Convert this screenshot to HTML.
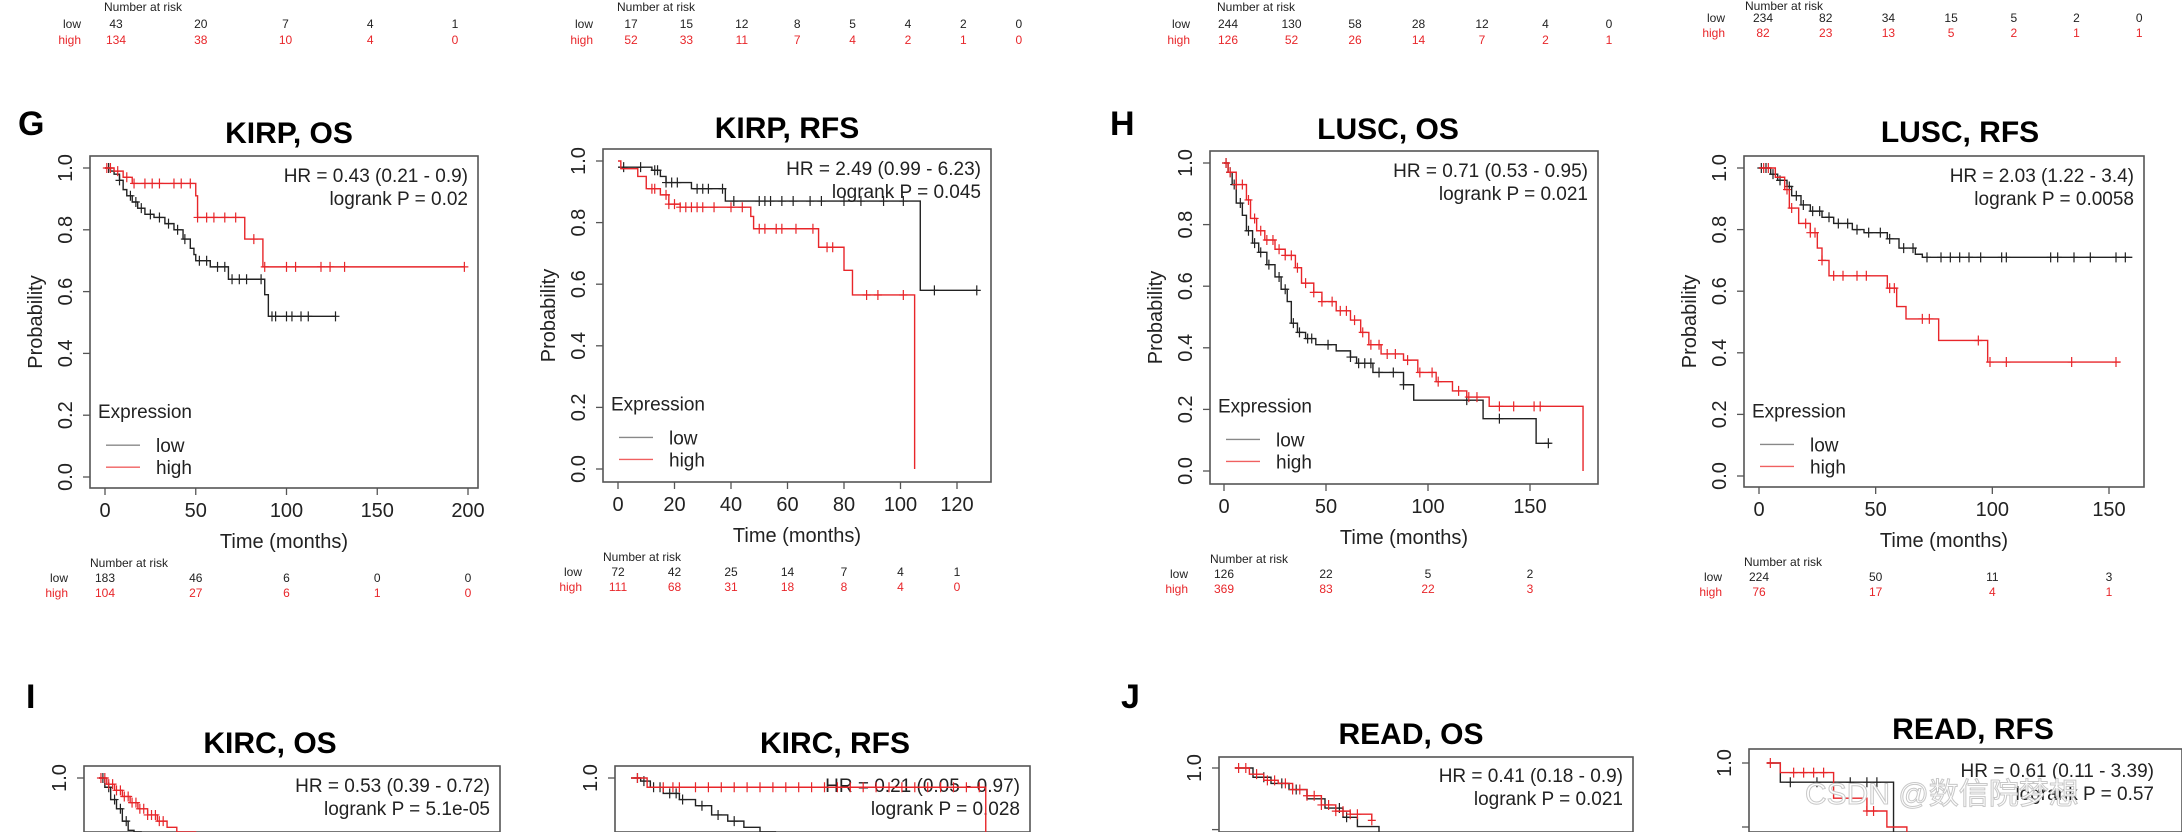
<!DOCTYPE html>
<html><head><meta charset="utf-8">
<style>
html,body{margin:0;padding:0;background:#fff;width:2182px;height:832px;overflow:hidden;}
svg{display:block;overflow:hidden;font-family:"Liberation Sans","Noto Sans CJK SC",sans-serif;}
</style></head>
<body>
<svg id="fig" width="2182" height="832" viewBox="0 0 2182 832" xmlns="http://www.w3.org/2000/svg">
<rect width="2182" height="832" fill="#fff"/>
<g font-size="12">
<text x="104" y="11" fill="#222">Number at risk</text>
<text x="81" y="28" text-anchor="end" fill="#222">low</text>
<text x="81" y="44" text-anchor="end" fill="#e8262a">high</text>
<text x="617" y="11" fill="#222">Number at risk</text>
<text x="593" y="28" text-anchor="end" fill="#222">low</text>
<text x="593" y="44" text-anchor="end" fill="#e8262a">high</text>
<text x="1217" y="11" fill="#222">Number at risk</text>
<text x="1190" y="28" text-anchor="end" fill="#222">low</text>
<text x="1190" y="44" text-anchor="end" fill="#e8262a">high</text>
<text x="1745" y="10" fill="#222">Number at risk</text>
<text x="1725" y="22" text-anchor="end" fill="#222">low</text>
<text x="1725" y="37" text-anchor="end" fill="#e8262a">high</text>
</g>
<g id="toprisk" font-size="12" text-anchor="middle"></g>
<text x="18" y="135" font-size="34" font-weight="bold">G</text>
<text x="1110" y="135" font-size="34" font-weight="bold">H</text>
<text x="26" y="708" font-size="34" font-weight="bold">I</text>
<text x="1121" y="708" font-size="34" font-weight="bold">J</text>
<g id="panels"></g>
<text x="1805" y="804" font-size="30" fill="#fff" stroke="#c8c8c8" stroke-width="1">CSDN @数信院梦想</text>
</svg>
<script>
const topRiskLow1=[43,20,7,4,1], topRiskHigh1=[134,38,10,4,0];
const topRiskLow2=[17,15,12,8,5,4,2,0], topRiskHigh2=[52,33,11,7,4,2,1,0];
const topRiskLow3=[244,130,58,28,12,4,0], topRiskHigh3=[126,52,26,14,7,2,1];
const topRiskLow4=[234,82,34,15,5,2,0], topRiskHigh4=[82,23,13,5,2,1,1];

const kirpOsLowT=[0,3,5,8,10,12,15,18,22,27,33,38,43,47,49,50,58,68,88,90,98,127];
const kirpOsLowS=[1,0.99,0.98,0.96,0.93,0.91,0.89,0.87,0.85,0.84,0.82,0.80,0.77,0.74,0.72,0.70,0.68,0.64,0.59,0.52,0.52,0.52];
const kirpOsHighT=[0,5,10,15,20,50,51,77,87,198];
const kirpOsHighS=[1,0.99,0.97,0.95,0.95,0.91,0.84,0.77,0.68,0.68];
const kirpOsLowC=[2,8,14,17,20,25,30,35,40,44,52,56,62,66,70,74,78,86,92,94,100,103,108,112,127];
const kirpOsHighC=[1,3,7,12,16,22,26,30,38,42,47,51,56,60,66,72,82,88,100,105,119,124,132,198];
const kirpOsRiskLow=[183,46,6,0,0], kirpOsRiskHigh=[104,27,6,1,0];
const kirpRfsLowT=[0,12,15,17,26,38,107,127];
const kirpRfsLowS=[0.98,0.97,0.95,0.93,0.91,0.87,0.58,0.58];
const kirpRfsHighT=[0,1,7,10,15,18,22,47,48,71,80,83,105];
const kirpRfsHighS=[1,0.975,0.95,0.91,0.89,0.86,0.85,0.82,0.78,0.72,0.645,0.565,0];
const kirpRfsLowC=[2,8,13,14,17,19,21,28,30,32,37,41,50,52,54,58,62,68,72,80,86,94,101,112,127];
const kirpRfsHighC=[12,13,17,18,20,22,24,26,28,30,34,40,44,50,52,56,58,63,69,74,76,88,92,101];
const kirpRfsRiskLow=[72,42,25,14,7,4,1], kirpRfsRiskHigh=[111,68,31,18,8,4,0];
const luscOsLowT=[0,2,4,6,9,11,14,17,21,25,28,31,33,36,40,45,55,62,65,73,88,93,127,153,160];
const luscOsLowS=[1,0.97,0.93,0.87,0.83,0.78,0.74,0.71,0.67,0.63,0.59,0.55,0.48,0.45,0.43,0.41,0.39,0.37,0.35,0.32,0.28,0.23,0.17,0.09,0.09];
const luscOsHighT=[0,2,6,11,13,16,20,25,30,35,38,44,48,55,62,67,71,77,88,95,104,112,119,130,176];
const luscOsHighS=[1,0.97,0.93,0.88,0.82,0.78,0.75,0.72,0.70,0.66,0.61,0.58,0.55,0.52,0.49,0.45,0.41,0.38,0.36,0.32,0.29,0.26,0.24,0.21,0];
const luscOsLowC=[1,3,5,8,12,15,18,22,27,30,34,37,41,43,51,62,66,69,72,76,83,88,119,135,159];
const luscOsHighC=[1,3,6,9,12,15,18,21,24,27,30,33,36,40,44,48,53,57,60,64,68,72,76,80,84,90,96,102,105,115,120,124,135,142,152,155];
const luscOsRiskLow=[126,22,5,2], luscOsRiskHigh=[369,83,22,3];
const luscRfsLowT=[0,5,8,12,14,18,22,27,32,40,45,55,60,67,70,160];
const luscRfsLowS=[1,0.98,0.96,0.94,0.91,0.88,0.86,0.84,0.82,0.80,0.79,0.77,0.74,0.72,0.71,0.71];
const luscRfsHighT=[0,7,11,13,17,22,25,27,30,55,59,63,77,98,155];
const luscRfsHighS=[1,0.97,0.93,0.87,0.82,0.79,0.74,0.70,0.65,0.61,0.55,0.51,0.44,0.37,0.37];
const luscRfsLowC=[1,3,6,9,13,16,19,23,26,30,34,38,42,47,52,56,62,66,72,78,82,86,90,95,104,106,125,128,135,142,153,157];
const luscRfsHighC=[2,4,12,14,20,22,24,27,32,36,42,46,56,58,70,73,94,99,106,134,153];
const luscRfsRiskLow=[224,50,11,3], luscRfsRiskHigh=[76,17,4,1];
const kircOsLowT=[0,3,6,9,12,15,18,22];
const kircOsLowS=[1,0.97,0.93,0.9,0.86,0.83,0.8,0.77];
const kircOsHighT=[0,4,8,12,16,20,25,30,35,40,45,50];
const kircOsHighS=[1,0.98,0.96,0.94,0.92,0.9,0.88,0.86,0.84,0.82,0.8,0.78];
const kircOsLowC=[2,5,8,11,14];
const kircOsHighC=[1,3,5,7,9,11,13,15,17,19,21,23,25,27,29,31,33,35,37,39,41,43];
const kircRfsLowT=[0,3,6,10,15,20,25,30,35,40,45];
const kircRfsLowS=[1,0.99,0.97,0.95,0.93,0.91,0.88,0.86,0.84,0.82,0.8];
const kircRfsHighT=[0,5,110];
const kircRfsHighS=[1,0.97,0];
const kircRfsLowC=[2,4,7,9,12,14,16,22,27,32,38,41,43];
const kircRfsHighC=[2,10,13,15,20,24,28,32,36,40,44,48,52,56,60,64,68,72,76,80,84,88,92,96,100,104,108];
const readOsLowT=[0,5,10,15,20,25,30,34,40];
const readOsLowS=[1,0.97,0.95,0.93,0.9,0.87,0.84,0.81,0.79];
const readOsHighT=[0,4,8,12,16,20,24,28,32,38];
const readOsHighS=[1,0.98,0.96,0.95,0.93,0.91,0.88,0.86,0.85,0.83];
const readOsLowC=[8,13,17,29,31];
const readOsHighC=[1,3,6,9,11,14,16,18,20,22,24,26,28,30,32,34,38];
const readRfsLowT=[0,4,35,38];
const readRfsLowS=[1,0.94,0.94,0.75];
const readRfsHighT=[0,4,20,30,36,42];
const readRfsHighS=[1,0.97,0.89,0.85,0.8,0.75];
const readRfsLowC=[7,15,25,30,33];
const readRfsHighC=[1,8,11,14,17,30,32];

const NS="http://www.w3.org/2000/svg";
function mk(tag,attrs,parent){const e=document.createElementNS(NS,tag);for(const k in attrs)e.setAttribute(k,attrs[k]);parent.appendChild(e);return e;}

(function(){
 const g=document.getElementById('toprisk');
 const rows=[
  [topRiskLow1,topRiskHigh1,116,84.75,28,44],
  [topRiskLow2,topRiskHigh2,631,55.4,28,44],
  [topRiskLow3,topRiskHigh3,1228,63.5,28,44],
  [topRiskLow4,topRiskHigh4,1763,62.7,22,37]];
 rows.forEach(r=>{
  r[0].forEach((v,i)=>{const t=mk('text',{x:r[2]+i*r[3],y:r[4],fill:'#222'},g);t.textContent=v;
   
   });
  r[1].forEach((v,i)=>{const t=mk('text',{x:r[2]+i*r[3],y:r[5],fill:'#e8262a'},g);t.textContent=v;
   
   });
 });
})();

const panels=[
 {name:'kirp-os',title:'KIRP, OS',tx:289,ty:143,box:[90,156,478,488],x0:105,xmax:200,xpx:468,y1:168,y0:477,xt:[0,50,100,150,200],
  hr:'HR = 0.43 (0.21 - 0.9)',lp:'logrank P = 0.02',lowT:kirpOsLowT,lowS:kirpOsLowS,highT:kirpOsHighT,highS:kirpOsHighS,lowC:kirpOsLowC,highC:kirpOsHighC,
  rl:kirpOsRiskLow,rh:kirpOsRiskHigh,riskLabelX:68},
 {name:'kirp-rfs',title:'KIRP, RFS',tx:787,ty:138,box:[603,149,991,482],x0:618,xmax:120,xpx:957,y1:161,y0:469,xt:[0,20,40,60,80,100,120],
  hr:'HR = 2.49 (0.99 - 6.23)',lp:'logrank P = 0.045',lowT:kirpRfsLowT,lowS:kirpRfsLowS,highT:kirpRfsHighT,highS:kirpRfsHighS,lowC:kirpRfsLowC,highC:kirpRfsHighC,
  rl:kirpRfsRiskLow,rh:kirpRfsRiskHigh,riskLabelX:582},
 {name:'lusc-os',title:'LUSC, OS',tx:1388,ty:139,box:[1210,151,1598,484],x0:1224,xmax:150,xpx:1530,y1:163,y0:471,xt:[0,50,100,150],
  hr:'HR = 0.71 (0.53 - 0.95)',lp:'logrank P = 0.021',lowT:luscOsLowT,lowS:luscOsLowS,highT:luscOsHighT,highS:luscOsHighS,lowC:luscOsLowC,highC:luscOsHighC,
  rl:luscOsRiskLow,rh:luscOsRiskHigh,riskLabelX:1188},
 {name:'lusc-rfs',title:'LUSC, RFS',tx:1960,ty:142,box:[1744,156,2144,487],x0:1759,xmax:150,xpx:2109,y1:168,y0:476,xt:[0,50,100,150],
  hr:'HR = 2.03 (1.22 - 3.4)',lp:'logrank P = 0.0058',lowT:luscRfsLowT,lowS:luscRfsLowS,highT:luscRfsHighT,highS:luscRfsHighS,lowC:luscRfsLowC,highC:luscRfsHighC,
  rl:luscRfsRiskLow,rh:luscRfsRiskHigh,riskLabelX:1722},
 {name:'kirc-os',title:'KIRC, OS',tx:270,ty:753,box:[84,766,500,832],x0:99,xmax:200,xpx:488,y1:778,y0:1086,xt:[],
  hr:'HR = 0.53 (0.39 - 0.72)',lp:'logrank P = 5.1e-05',lowT:kircOsLowT,lowS:kircOsLowS,highT:kircOsHighT,highS:kircOsHighS,lowC:kircOsLowC,highC:kircOsHighC},
 {name:'kirc-rfs',title:'KIRC, RFS',tx:835,ty:753,box:[615,766,1030,832],x0:631,xmax:120,xpx:1018,y1:778,y0:1086,xt:[],
  hr:'HR = 0.21 (0.05 - 0.97)',lp:'logrank P = 0.028',lowT:kircRfsLowT,lowS:kircRfsLowS,highT:kircRfsHighT,highS:kircRfsHighS,lowC:kircRfsLowC,highC:kircRfsHighC},
 {name:'read-os',title:'READ, OS',tx:1411,ty:744,box:[1219,757,1633,832],x0:1235,xmax:100,xpx:1595,y1:768,y0:1076,xt:[],
  hr:'HR = 0.41 (0.18 - 0.9)',lp:'logrank P = 0.021',lowT:readOsLowT,lowS:readOsLowS,highT:readOsHighT,highS:readOsHighS,lowC:readOsLowC,highC:readOsHighC},
 {name:'read-rfs',title:'READ, RFS',tx:1973,ty:739,box:[1749,749,2182,832],x0:1767,xmax:100,xpx:2100,y1:763,y0:1083,xt:[],
  hr:'HR = 0.61 (0.11 - 3.39)',lp:'logrank P = 0.57',hrRight:2154,lowT:readRfsLowT,lowS:readRfsLowS,highT:readRfsHighT,highS:readRfsHighS,lowC:readRfsLowC,highC:readRfsHighC}
];

const root=document.getElementById('panels');
panels.forEach(p=>{
 const g=mk('g',{},root);
 
 
 const [bx0,by0,bx1,by1]=p.box;
 const X=t=>p.x0+(p.xpx-p.x0)*t/p.xmax;
 const Y=s=>p.y0+(p.y1-p.y0)*s;
 const YC=s=>Math.min(832,Y(s));
 const t=mk('text',{x:p.tx,y:p.ty,'font-size':30,'font-weight':'bold','text-anchor':'middle'},g);
 t.textContent=p.title;
 
 
 const box=mk('rect',{x:bx0,y:by0,width:bx1-bx0,height:by1-by0,fill:'none',stroke:'#555','stroke-width':1.6},g);
 
 
 [0,0.2,0.4,0.6,0.8,1.0].forEach(v=>{
  const yy=Y(v); if(yy>831) return;
  mk('line',{x1:bx0-7,x2:bx0,y1:yy,y2:yy,stroke:'#555','stroke-width':1.3},g);
  if(yy>810) return;
  const lb=mk('text',{x:0,y:0,'font-size':20,'text-anchor':'middle',fill:'#222',transform:`translate(${bx0-18},${yy}) rotate(-90)`},g);
  lb.textContent=v.toFixed(1);
  
  
 });
 if(p.xt.length){
  const yl=mk('text',{x:0,y:0,'font-size':20,'text-anchor':'middle',fill:'#222',transform:`translate(${bx0-48},${(by0+by1)/2}) rotate(-90)`},g);
  yl.textContent='Probability';
  
  
  p.xt.forEach(v=>{
   mk('line',{x1:X(v),x2:X(v),y1:by1,y2:by1+7,stroke:'#555','stroke-width':1.3},g);
   const lb=mk('text',{x:X(v),y:by1+29,'font-size':20,'text-anchor':'middle',fill:'#222'},g);
   lb.textContent=v;
   
   
  });
  const xl=mk('text',{x:(bx0+bx1)/2,y:by1+60,'font-size':20,'text-anchor':'middle',fill:'#222'},g);
  xl.textContent='Time (months)';
  
  
  const lx=bx0+8, ly=Y(0.2)+3;
  const le=mk('text',{x:lx,y:ly,'font-size':19,fill:'#222'},g);
  le.textContent='Expression';
  
  
  mk('line',{x1:lx+8,x2:lx+42,y1:ly+27,y2:ly+27,stroke:'#888','stroke-width':1.4},g);
  const l1=mk('text',{x:lx+58,y:ly+34,'font-size':19,fill:'#222'},g);l1.textContent='low';
  
  
  mk('line',{x1:lx+8,x2:lx+42,y1:ly+49,y2:ly+49,stroke:'#f06060','stroke-width':1.4},g);
  const l2=mk('text',{x:lx+58,y:ly+56,'font-size':19,fill:'#222'},g);l2.textContent='high';
  
  
  const nr=mk('text',{x:bx0,y:by1+79,'font-size':12,fill:'#222'},g);nr.textContent='Number at risk';
  
  
  const a=mk('text',{x:p.riskLabelX,y:by1+94,'font-size':12,'text-anchor':'end',fill:'#222'},g);a.textContent='low';
  const b=mk('text',{x:p.riskLabelX,y:by1+109,'font-size':12,'text-anchor':'end',fill:'#e8262a'},g);b.textContent='high';
  p.rl.forEach((v,i)=>{const e=mk('text',{x:X(p.xt[i]),y:by1+94,'font-size':12,'text-anchor':'middle',fill:'#222'},g);e.textContent=v;
   
   });
  p.rh.forEach((v,i)=>{const e=mk('text',{x:X(p.xt[i]),y:by1+109,'font-size':12,'text-anchor':'middle',fill:'#e8262a'},g);e.textContent=v;
   
   });
 }
 const hx=p.hrRight||bx1-10;
 const h1=mk('text',{x:hx,y:Y(1)+14,'font-size':19,'text-anchor':'end',fill:'#222'},g);h1.textContent=p.hr;
 
 
 const h2=mk('text',{x:hx,y:Y(1)+37,'font-size':19,'text-anchor':'end',fill:'#222'},g);h2.textContent=p.lp;
 
 
 const clip='clip-'+p.name;
 const cp=mk('clipPath',{id:clip},g);
 mk('rect',{x:bx0,y:by0,width:bx1-bx0,height:by1-by0},cp);
 function curve(T,S,C,col,nm){
  let d=`M${X(T[0])},${YC(S[0])}`;
  for(let i=1;i<T.length;i++){d+=`H${X(T[i])}V${YC(S[i])}`;}
  const path=mk('path',{d:d,fill:'none',stroke:col,'stroke-width':1.4,'clip-path':`url(#${clip})`},g);
  
  
  const sAt=t=>{let s=S[0];for(let i=0;i<T.length;i++){if(T[i]<=t)s=S[i];}return s;};
  let dd='';
  C.forEach(c=>{const cx=X(c),cy=Y(sAt(c));if(cy>826)return;dd+=`M${cx-4},${cy}H${cx+4}M${cx},${cy-5}V${cy+5}`;});
  const cm=mk('path',{d:dd,fill:'none',stroke:col,'stroke-width':1.2,'clip-path':`url(#${clip})`},g);
  
  
 }
 curve(p.lowT,p.lowS,p.lowC,'#222','low-expression');
 curve(p.highT,p.highS,p.highC,'#e8262a','high-expression');
});
</script>
</body></html>
